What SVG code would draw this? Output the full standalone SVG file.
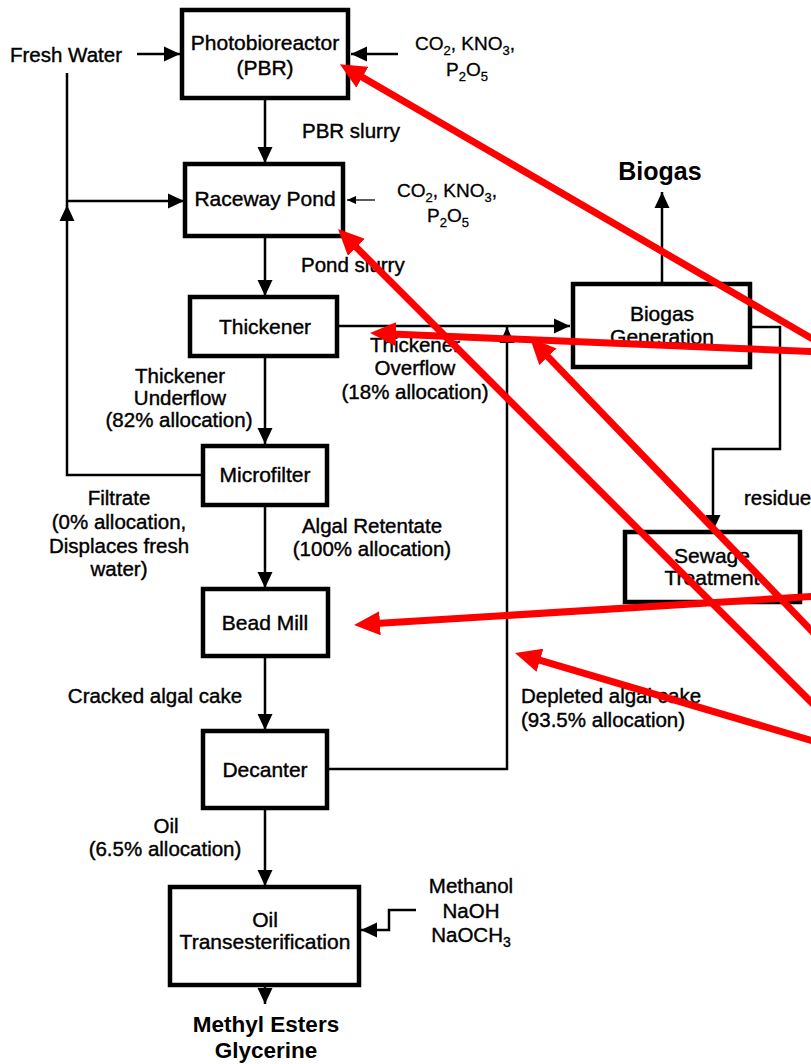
<svg xmlns="http://www.w3.org/2000/svg" width="811" height="1064" viewBox="0 0 811 1064">
<style>
.box{fill:#fff;stroke:#000;stroke-width:4.5}
.nt{font-family:"Liberation Sans",Arial,sans-serif;font-size:21px;fill:#000;stroke:#000;stroke-width:0.4;text-anchor:middle}
.lt{font-family:"Liberation Sans",Arial,sans-serif;font-size:20.5px;fill:#000;stroke:#000;stroke-width:0.4}
.ct{font-family:"Liberation Sans",Arial,sans-serif;font-size:19px;fill:#000;stroke:#000;stroke-width:0.3}
.bt{font-family:"Liberation Sans",Arial,sans-serif;font-weight:bold;fill:#000;text-anchor:middle}
.mid{text-anchor:middle}
.c{fill:none;stroke:#000;stroke-width:2.5}
.thin{fill:none;stroke:#000;stroke-width:1.3}
.red{fill:none;stroke:#ff0000;stroke-width:7}
</style>
<defs>
<marker id="ah" markerUnits="userSpaceOnUse" markerWidth="16" markerHeight="16" viewBox="0 0 16 16" refX="16" refY="8" orient="auto"><path d="M0,0.5 L16,8 L0,15.5 z" fill="#000"/></marker>
<marker id="ahs" markerUnits="userSpaceOnUse" markerWidth="9" markerHeight="8" viewBox="0 0 9 8" refX="9" refY="4" orient="auto"><path d="M0,0 L9,4 L0,8 z" fill="#000"/></marker>
<marker id="ra" markerUnits="userSpaceOnUse" markerWidth="26" markerHeight="24" viewBox="0 0 26 24" refX="4" refY="12" orient="auto"><path d="M0,0 L26,12 L0,24 z" fill="#ff0000"/></marker>
</defs>
<rect width="811" height="1064" fill="#fff"/>

<g id="connectors">
<line class="c" x1="137" y1="54" x2="180" y2="54" marker-end="url(#ah)"/>
<line class="c" x1="398" y1="54" x2="351" y2="54" marker-end="url(#ah)"/>
<line class="c" x1="265" y1="100" x2="265" y2="163" marker-end="url(#ah)"/>
<line class="c" x1="67" y1="73" x2="67" y2="206"/>
<path class="c" d="M203,475 H67 V205" marker-end="url(#ah)"/>
<line class="c" x1="67" y1="201" x2="184" y2="201" marker-end="url(#ah)"/>
<line class="thin" x1="375" y1="200" x2="347" y2="200" marker-end="url(#ahs)"/>
<line class="c" x1="265" y1="238" x2="265" y2="296" marker-end="url(#ah)"/>
<line class="c" x1="339" y1="326" x2="570" y2="326" marker-end="url(#ah)"/>
<line class="c" x1="265" y1="356" x2="265" y2="444" marker-end="url(#ah)"/>
<line class="c" x1="265" y1="507" x2="265" y2="588" marker-end="url(#ah)"/>
<line class="c" x1="265" y1="657" x2="265" y2="730" marker-end="url(#ah)"/>
<path class="c" d="M329,769 H507 V327" marker-end="url(#ah)"/>
<line class="c" x1="265" y1="809" x2="265" y2="886" marker-end="url(#ah)"/>
<path class="c" d="M416,910 H389 V930 H361" marker-end="url(#ah)"/>
<line class="c" x1="265" y1="985" x2="265" y2="1004" marker-end="url(#ah)"/>
<line class="c" x1="662" y1="283" x2="662" y2="192" marker-end="url(#ah)"/>
<path class="c" d="M751,327 H780 V449 H713 V531" marker-end="url(#ah)"/>
</g>

<g id="pbr">
<rect class="box" x="182" y="10" width="166" height="88"/>
<text class="nt" x="265" y="50">Photobioreactor</text>
<text class="nt" x="265" y="75">(PBR)</text>
</g>
<g id="raceway">
<rect class="box" x="185" y="164" width="158" height="72"/>
<text class="nt" x="265" y="206">Raceway Pond</text>
</g>
<g id="thickener">
<rect class="box" x="190" y="297" width="147" height="59"/>
<text class="nt" x="265" y="334">Thickener</text>
</g>
<g id="microfilter">
<rect class="box" x="203" y="446" width="124" height="59"/>
<text class="nt" x="265" y="482">Microfilter</text>
</g>
<g id="beadmill">
<rect class="box" x="203" y="589" width="125" height="67"/>
<text class="nt" x="265" y="630">Bead Mill</text>
</g>
<g id="decanter">
<rect class="box" x="203" y="731" width="124" height="77"/>
<text class="nt" x="265" y="777">Decanter</text>
</g>
<g id="transesterification">
<rect class="box" x="170" y="887" width="189" height="98"/>
<text class="nt" x="265" y="927">Oil</text>
<text class="nt" x="265" y="949">Transesterification</text>
</g>
<g id="biogasgen">
<rect class="box" x="573" y="284" width="177" height="83"/>
<text class="nt" x="662" y="321">Biogas</text>
<text class="nt" x="662" y="344">Generation</text>
</g>
<g id="sewage">
<rect class="box" x="625" y="532" width="175" height="70"/>
<text class="nt" x="712" y="563">Sewage</text>
<text class="nt" x="712" y="585">Treatment</text>
</g>

<g id="labels">
<text class="lt" x="10" y="62">Fresh Water</text>
<text class="ct" x="415" y="50">CO<tspan font-size="13" dy="5">2</tspan><tspan dy="-5">, KNO</tspan><tspan font-size="13" dy="5">3</tspan><tspan dy="-5">,</tspan></text>
<text class="ct mid" x="467" y="76">P<tspan font-size="13" dy="5">2</tspan><tspan dy="-5">O</tspan><tspan font-size="13" dy="5">5</tspan></text>
<text class="lt" x="302" y="138">PBR slurry</text>
<text class="ct" x="397" y="197">CO<tspan font-size="13" dy="5">2</tspan><tspan dy="-5">, KNO</tspan><tspan font-size="13" dy="5">3</tspan><tspan dy="-5">,</tspan></text>
<text class="ct mid" x="448" y="222">P<tspan font-size="13" dy="5">2</tspan><tspan dy="-5">O</tspan><tspan font-size="13" dy="5">5</tspan></text>
<text class="lt" x="301" y="272">Pond slurry</text>
<text class="bt" x="660" y="180" font-size="25">Biogas</text>
<text class="lt mid" x="415" y="352">Thickener</text>
<text class="lt mid" x="415" y="375">Overflow</text>
<text class="lt mid" x="415" y="399">(18% allocation)</text>
<text class="lt mid" x="180" y="383">Thickener</text>
<text class="lt mid" x="180" y="405">Underflow</text>
<text class="lt mid" x="179" y="427">(82% allocation)</text>
<text class="lt mid" x="119" y="505">Filtrate</text>
<text class="lt mid" x="119" y="529">(0% allocation,</text>
<text class="lt mid" x="119" y="553">Displaces fresh</text>
<text class="lt mid" x="119" y="576">water)</text>
<text class="lt mid" x="372" y="533">Algal Retentate</text>
<text class="lt mid" x="372" y="556">(100% allocation)</text>
<text class="lt" x="744" y="505">residue</text>
<text class="lt mid" x="155" y="703">Cracked algal cake</text>
<text class="lt" x="521" y="703">Depleted algal cake</text>
<text class="lt" x="521" y="727">(93.5% allocation)</text>
<text class="lt mid" x="166" y="833">Oil</text>
<text class="lt mid" x="165" y="856">(6.5% allocation)</text>
<text class="lt mid" x="471" y="893">Methanol</text>
<text class="lt mid" x="471" y="918">NaOH</text>
<text class="lt mid" x="471" y="942">NaOCH<tspan font-size="14" dy="5">3</tspan></text>
<text class="bt" x="266" y="1032" font-size="22.5">Methyl Esters</text>
<text class="bt" x="266" y="1058" font-size="22.5">Glycerine</text>
</g>

<g id="red-arrows">
<line class="red" x1="830" y1="349" x2="358.9" y2="75.2" marker-end="url(#ra)"/>
<line class="red" x1="830" y1="352.4" x2="392" y2="333.9" marker-end="url(#ra)"/>
<line class="red" x1="830" y1="721" x2="353.6" y2="244.6" marker-end="url(#ra)"/>
<line class="red" x1="830" y1="650" x2="545.2" y2="353.9" marker-end="url(#ra)"/>
<line class="red" x1="830" y1="595.3" x2="376" y2="623.6" marker-end="url(#ra)"/>
<line class="red" x1="830" y1="746" x2="536.1" y2="659.2" marker-end="url(#ra)"/>
</g>
</svg>
